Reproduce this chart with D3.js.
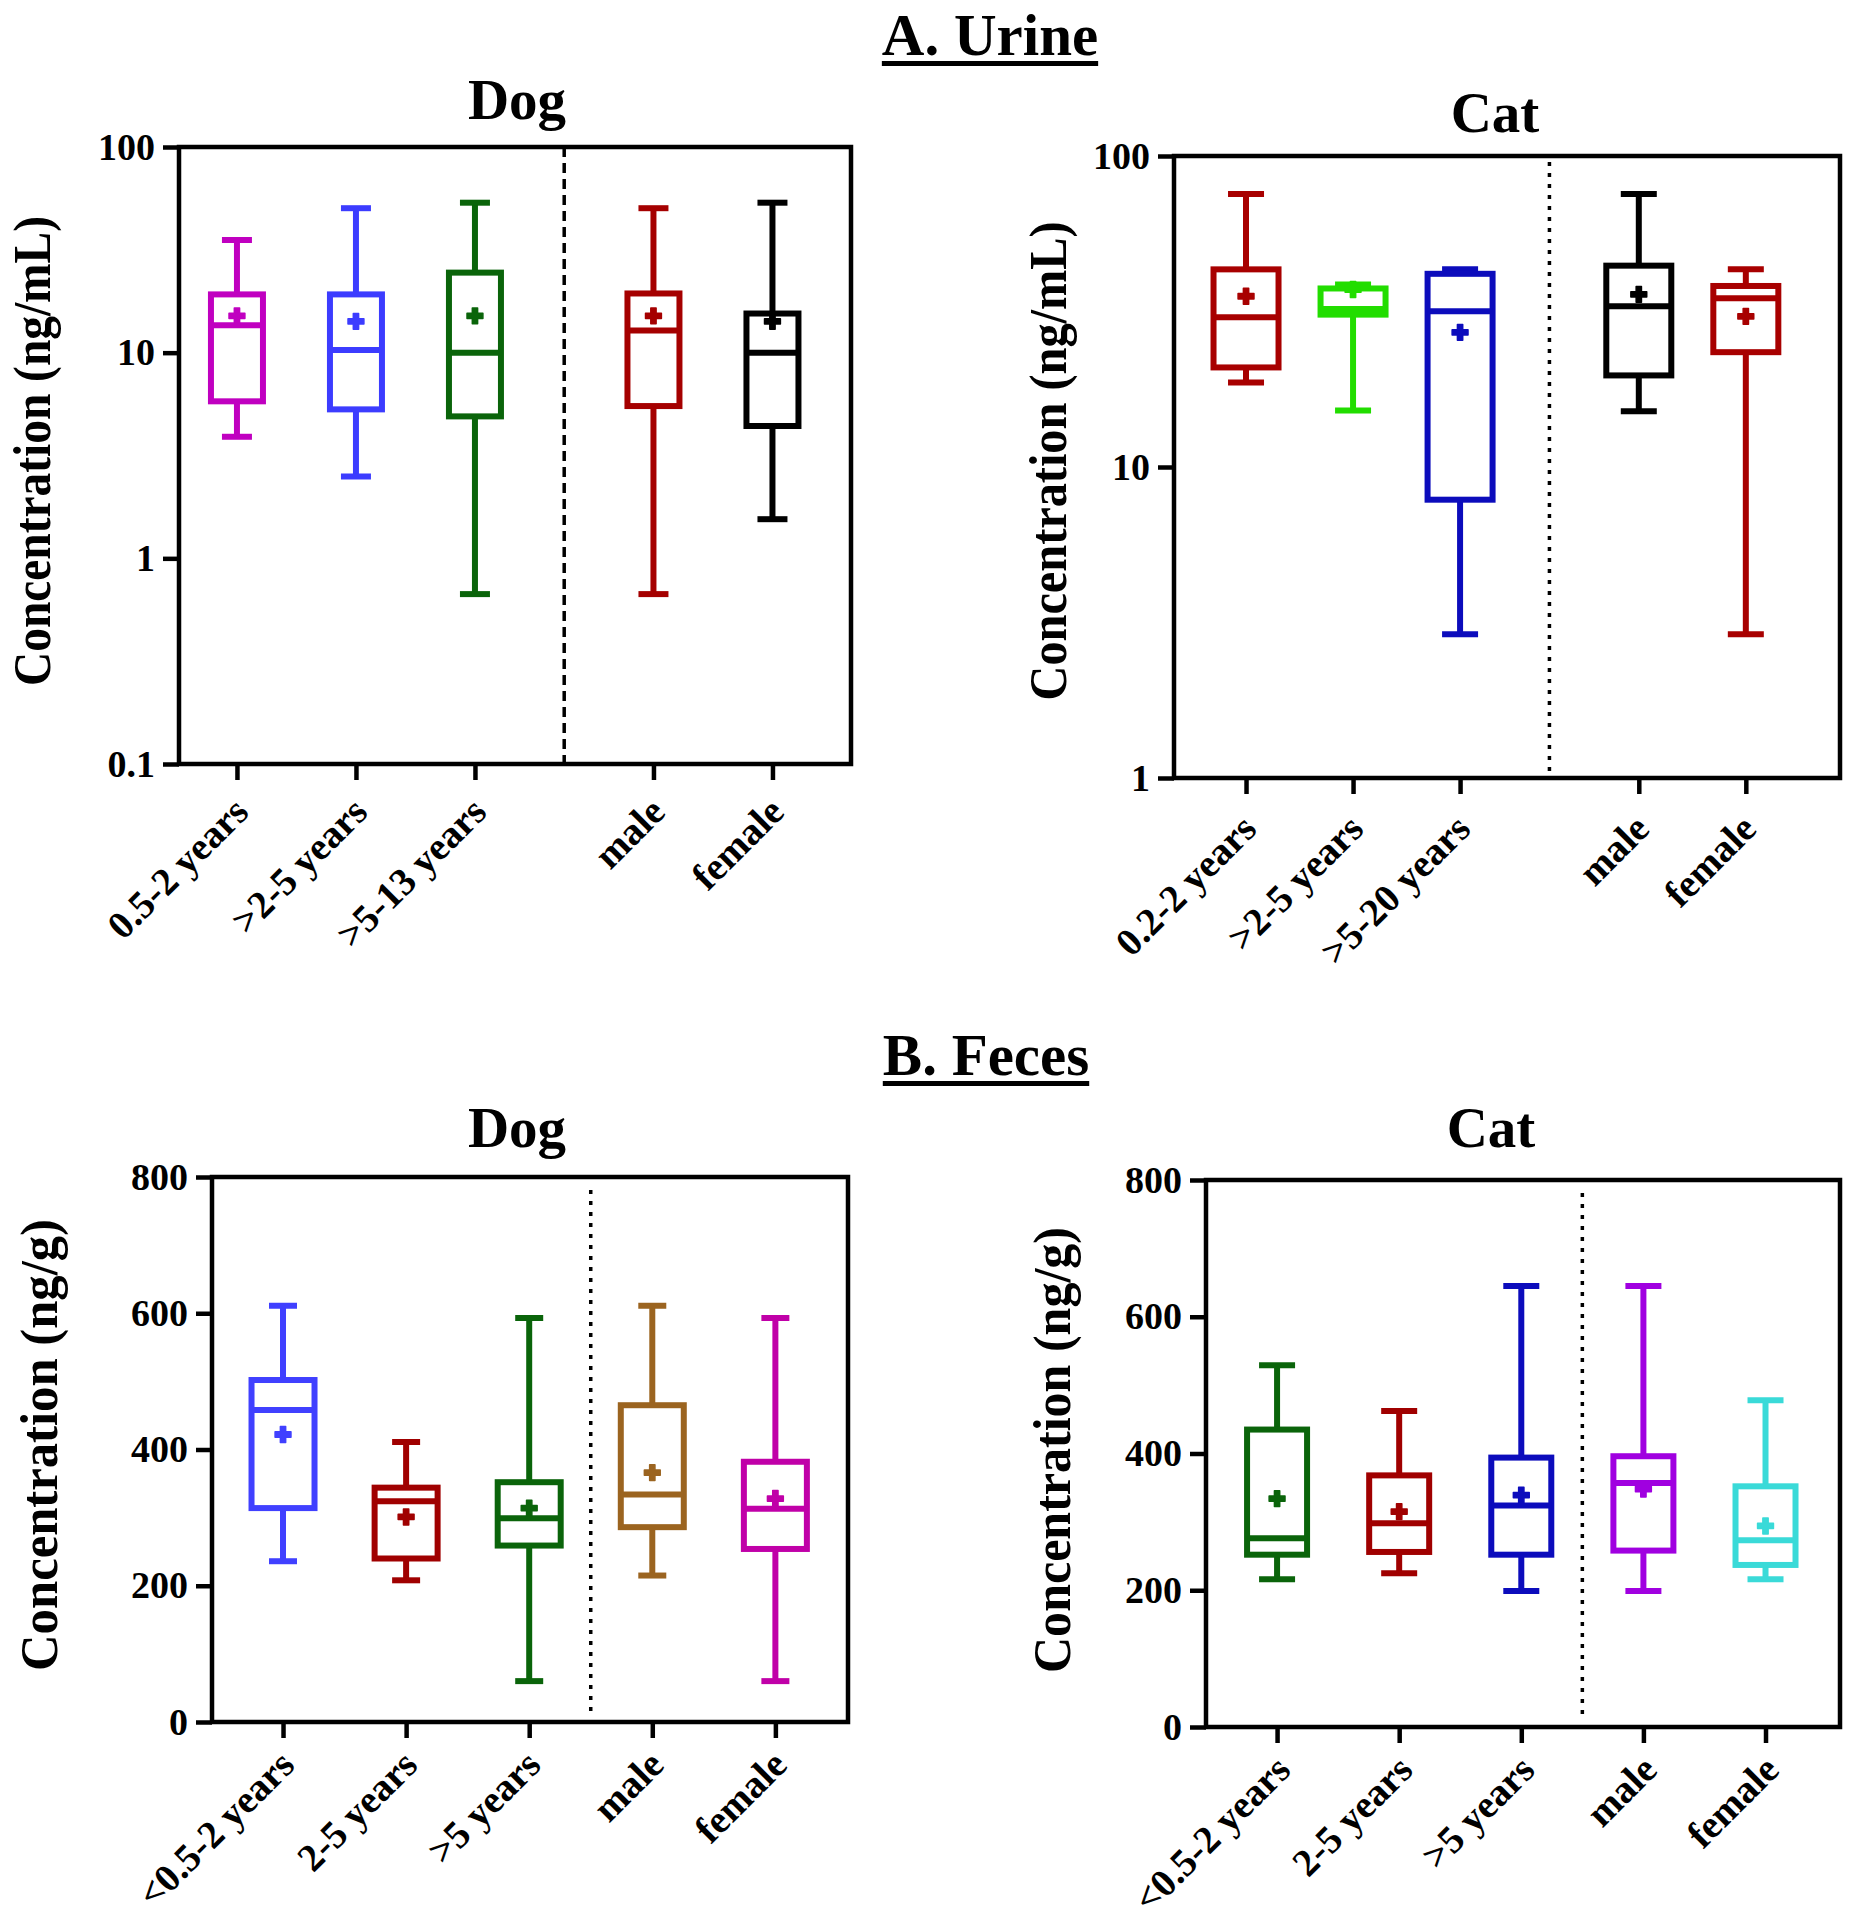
<!DOCTYPE html>
<html>
<head>
<meta charset="utf-8">
<script src="https://cdn.jsdelivr.net/npm/d3@7"></script>
<style>
  body { margin: 0; background: #fff; }
  text { font-family: "Liberation Serif", "Times New Roman", serif; font-weight: bold; fill: #000; }
</style>
</head>
<body>
<svg id="fig" width="1858" height="1920"></svg>
<script>
/* ---- data ---- */

// A. Urine - Dog (ng/mL)
var urineDogCats = ["0.5-2 years", ">2-5 years", ">5-13 years", "male", "female"];
var urineDogMin  = [3.9, 2.5, 0.67, 0.67, 1.55];
var urineDogQ1   = [5.8, 5.3, 4.9, 5.5, 4.4];
var urineDogMed  = [13.6, 10.3, 10.0, 12.8, 10.0];
var urineDogQ3   = [19.2, 19.2, 24.5, 19.4, 15.5];
var urineDogMax  = [35.3, 50.4, 53.6, 50.4, 53.6];
var urineDogMean = [15.1, 14.2, 15.1, 15.1, 14.2];

// A. Urine - Cat (ng/mL)
var urineCatCats = ["0.2-2 years", ">2-5 years", ">5-20 years", "male", "female"];
var urineCatMin  = [18.7, 15.2, 2.9, 15.1, 2.9];
var urineCatQ1   = [20.9, 30.9, 7.85, 19.7, 23.4];
var urineCatMed  = [30.3, 32.2, 31.7, 32.9, 34.9];
var urineCatQ3   = [43.2, 37.5, 41.8, 44.4, 38.2];
var urineCatMax  = [75.5, 38.6, 43.2, 75.5, 43.2];
var urineCatMean = [35.4, 37.2, 27.1, 35.9, 30.5];

// B. Feces - Dog (ng/g)
var fecesDogCats = ["<0.5-2 years", "2-5 years", ">5 years", "male", "female"];
var fecesDogMin  = [236, 208, 60, 215, 60];
var fecesDogQ1   = [314, 240, 259, 286, 254];
var fecesDogMed  = [458, 324, 299, 334, 313];
var fecesDogQ3   = [502, 344, 352, 465, 382];
var fecesDogMax  = [611, 411, 593, 611, 593];
var fecesDogMean = [422, 301, 314, 366, 328];

// B. Feces - Cat (ng/g)
var fecesCatCats = ["<0.5-2 years", "2-5 years", ">5 years", "male", "female"];
var fecesCatMin  = [216, 225, 199, 199, 216];
var fecesCatQ1   = [252, 256, 252, 258, 237];
var fecesCatMed  = [276, 298, 324, 357, 273];
var fecesCatQ3   = [435, 368, 394, 396, 352];
var fecesCatMax  = [529, 462, 645, 645, 478];
var fecesCatMean = [334, 315, 339, 348, 294];

var logTicks100 = [0.1, 1, 10, 100];
var logTicksCat = [1, 10, 100];
var linTicks = [0, 200, 400, 600, 800];

// box colours per group
var urineDogColors = ["#c000c0", "#3c3cff", "#0a640a", "#a50000", "#000000"];
var urineCatColors = ["#a80000", "#22dd00", "#0c0cbc", "#000000", "#a80000"];
var fecesDogColors = ["#4040ff", "#a00000", "#0a640a", "#9b6420", "#c000a8"];
var fecesCatColors = ["#0a640a", "#a00000", "#0c0cbc", "#a000e0", "#3adad8"];

var svg = d3.select("#fig");
svg.append("rect").attr("width", 1858).attr("height", 1920).attr("fill", "#fff");

function zipStats(cats, mn, q1, md, q3, mx, mean) {
  return cats.map(function(c, i) {
    return {cat: c, min: mn[i], q1: q1[i], med: md[i], q3: q3[i], max: mx[i], mean: mean[i]};
  });
}

function drawPanel(p) {
  var g = svg.append("g");

  var y = (p.log ? d3.scaleLog() : d3.scaleLinear())
    .domain(p.yDomain)
    .range([p.bottom, p.top]);

  var x = d3.scaleLinear()
    .domain(p.xDomain)
    .range([p.left, p.right]);

  // left axis ticks + labels
  var yAxis = d3.axisLeft(y)
    .tickValues(p.yTicks)
    .tickSize(16)
    .tickPadding(8)
    .tickFormat(function(d) { return String(d); });

  var ya = g.append("g")
    .attr("transform", "translate(" + p.left + ",0)")
    .call(yAxis);
  ya.select(".domain").remove();
  ya.selectAll("line").attr("stroke", "#000").attr("stroke-width", 4.5);
  ya.selectAll("text")
    .attr("font-size", 38)
    .attr("font-family", "Liberation Serif")
    .attr("font-weight", "bold")
    .attr("fill", "#000");

  // bottom axis ticks
  var xAxis = d3.axisBottom(x)
    .tickValues(p.slots)
    .tickSize(16)
    .tickFormat(function(d, i) { return p.data[i].cat; });

  var xa = g.append("g")
    .attr("transform", "translate(0," + p.bottom + ")")
    .call(xAxis);
  xa.select(".domain").remove();
  xa.selectAll("line").attr("stroke", "#000").attr("stroke-width", 4.5);
  xa.selectAll("text")
    .attr("font-size", 39)
    .attr("font-family", "Liberation Serif")
    .attr("font-weight", "bold")
    .attr("fill", "#000")
    .attr("text-anchor", "end")
    .attr("dy", null)
    .attr("y", null)
    .attr("transform", "translate(" + p.labDx + "," + p.labDy + ") rotate(-45)");

  // frame
  g.append("rect")
    .attr("x", p.left).attr("y", p.top)
    .attr("width", p.right - p.left).attr("height", p.bottom - p.top)
    .attr("fill", "none").attr("stroke", "#000").attr("stroke-width", 4.5);

  // age / sex divider
  g.append("line")
    .attr("x1", x(p.divider)).attr("x2", x(p.divider))
    .attr("y1", p.top + p.divPad[0]).attr("y2", p.bottom - p.divPad[1])
    .attr("stroke", "#000").attr("stroke-width", 3.5)
    .attr("stroke-dasharray", p.dash);

  // boxes
  var bw = p.boxW, cw = p.capW, sw = 6;
  var box = g.selectAll(".box").data(p.data).enter().append("g")
    .attr("class", "box")
    .attr("transform", function(d, i) { return "translate(" + x(p.slots[i]) + ",0)"; });

  box.each(function(d, i) {
    var b = d3.select(this), col = p.colors[i];
    b.append("line").attr("x1", 0).attr("x2", 0)
      .attr("y1", y(d.max)).attr("y2", y(d.q3))
      .attr("stroke", col).attr("stroke-width", sw);
    b.append("line").attr("x1", 0).attr("x2", 0)
      .attr("y1", y(d.q1)).attr("y2", y(d.min))
      .attr("stroke", col).attr("stroke-width", sw);
    b.append("line").attr("x1", -cw / 2).attr("x2", cw / 2)
      .attr("y1", y(d.max)).attr("y2", y(d.max))
      .attr("stroke", col).attr("stroke-width", sw);
    b.append("line").attr("x1", -cw / 2).attr("x2", cw / 2)
      .attr("y1", y(d.min)).attr("y2", y(d.min))
      .attr("stroke", col).attr("stroke-width", sw);
    b.append("rect")
      .attr("x", -bw / 2).attr("width", bw)
      .attr("y", y(d.q3)).attr("height", y(d.q1) - y(d.q3))
      .attr("fill", "none").attr("stroke", col).attr("stroke-width", sw);
    b.append("line").attr("x1", -bw / 2).attr("x2", bw / 2)
      .attr("y1", y(d.med)).attr("y2", y(d.med))
      .attr("stroke", col).attr("stroke-width", sw);
    b.append("path")
      .attr("d", d3.symbol().type(d3.symbolCross).size(140)())
      .attr("transform", "translate(0," + y(d.mean) + ")")
      .attr("fill", col)
      .attr("stroke", col).attr("stroke-width", 1.5)
      .attr("stroke-linejoin", "round");
  });

  // panel title
  g.append("text")
    .attr("x", p.titleX).attr("y", p.titleY)
    .attr("text-anchor", "middle")
    .attr("font-size", 57)
    .text(p.title);

  // y axis title
  g.append("text")
    .attr("transform", "translate(" + p.yLabX + "," + p.yLabY + ") rotate(-90)")
    .attr("text-anchor", "middle")
    .attr("font-size", 52)
    .attr("textLength", p.yLabLen)
    .attr("lengthAdjust", "spacingAndGlyphs")
    .text(p.yLabel);
}

function sectionTitle(label, cx, baseY) {
  var t = svg.append("text")
    .attr("x", cx).attr("y", baseY)
    .attr("text-anchor", "middle")
    .attr("font-size", 59)
    .text(label);
  var bb = t.node().getBBox();
  svg.append("rect")
    .attr("x", bb.x).attr("width", bb.width)
    .attr("y", baseY + 6).attr("height", 5)
    .attr("fill", "#000");
}

sectionTitle("A. Urine", 990, 55);
sectionTitle("B. Feces", 986, 1075);

drawPanel({
  left: 179, right: 851, top: 147, bottom: 764,
  log: true, yDomain: [0.1, 100], yTicks: logTicks100,
  xDomain: [-0.487, 5.16], slots: [0, 1, 2, 3.5, 4.5], divider: 2.75,
  dash: "10,6", divPad: [0, 0],
  boxW: 52, capW: 30, labDx: 13, labDy: 50,
  data: zipStats(urineDogCats, urineDogMin, urineDogQ1, urineDogMed, urineDogQ3, urineDogMax, urineDogMean),
  colors: urineDogColors,
  title: "Dog", titleX: 517, titleY: 119,
  yLabel: "Concentration (ng/mL)", yLabX: 50, yLabY: 451, yLabLen: 470
});

drawPanel({
  left: 1174, right: 1840, top: 156, bottom: 778,
  log: true, yDomain: [1, 100], yTicks: logTicksCat,
  xDomain: [-0.673, 5.55], slots: [0, 1, 2, 3.67, 4.67], divider: 2.835,
  dash: "4,7", divPad: [6, 3],
  boxW: 65, capW: 36, labDx: 12, labDy: 53,
  data: zipStats(urineCatCats, urineCatMin, urineCatQ1, urineCatMed, urineCatQ3, urineCatMax, urineCatMean),
  colors: urineCatColors,
  title: "Cat", titleX: 1495, titleY: 132,
  yLabel: "Concentration (ng/mL)", yLabX: 1066, yLabY: 461, yLabLen: 479
});

drawPanel({
  left: 212, right: 848, top: 1177, bottom: 1722,
  log: false, yDomain: [0, 800], yTicks: linTicks,
  xDomain: [-0.577, 4.59], slots: [0, 1, 2, 3, 4], divider: 2.5,
  dash: "4,7", divPad: [13, 9],
  boxW: 63, capW: 28, labDx: 13, labDy: 45,
  data: zipStats(fecesDogCats, fecesDogMin, fecesDogQ1, fecesDogMed, fecesDogQ3, fecesDogMax, fecesDogMean),
  colors: fecesDogColors,
  title: "Dog", titleX: 517, titleY: 1147,
  yLabel: "Concentration (ng/g)", yLabX: 57, yLabY: 1445, yLabLen: 452
});

drawPanel({
  left: 1206, right: 1840, top: 1180, bottom: 1727,
  log: false, yDomain: [0, 800], yTicks: linTicks,
  xDomain: [-0.582, 4.61], slots: [0, 1, 2, 3, 4], divider: 2.5,
  dash: "4,7", divPad: [13, 9],
  boxW: 60, capW: 36, labDx: 15, labDy: 45,
  data: zipStats(fecesCatCats, fecesCatMin, fecesCatQ1, fecesCatMed, fecesCatQ3, fecesCatMax, fecesCatMean),
  colors: fecesCatColors,
  title: "Cat", titleX: 1491, titleY: 1147,
  yLabel: "Concentration (ng/g)", yLabX: 1070, yLabY: 1450, yLabLen: 446
});
</script>
</body>
</html>
